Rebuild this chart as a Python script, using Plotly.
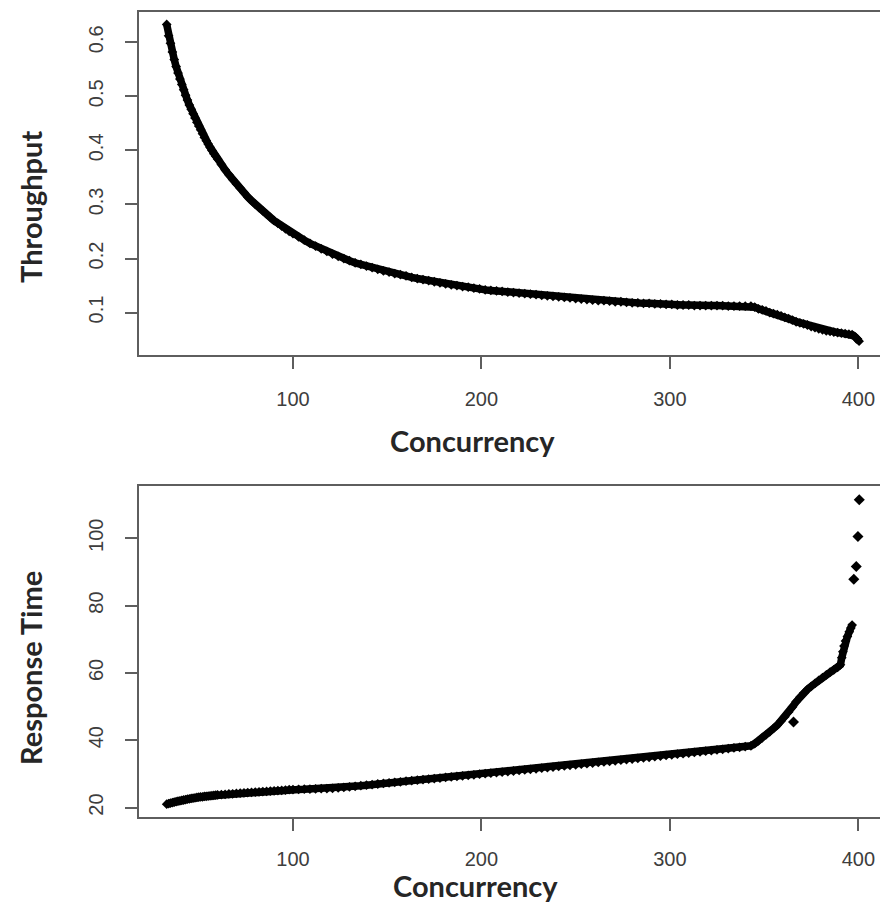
import plotly.graph_objects as go

# ---------------- data ----------------
# concurrency levels of the dense band (independent variable)
conc_seg1 = list(range(33, 61))          # 33..60
conc_seg2 = list(range(62, 101, 2))      # 62..100
conc_seg3 = list(range(103, 344, 3))     # 103..343
conc_seg4 = list(range(345, 390, 2))     # 345..389

thr_seg1 = [0.633, 0.612, 0.598, 0.582, 0.568, 0.555, 0.543, 0.532, 0.522, 0.512,
            0.502, 0.493, 0.484, 0.476, 0.468, 0.460, 0.452, 0.445, 0.438, 0.431,
            0.424, 0.418, 0.412, 0.406, 0.400, 0.394, 0.389, 0.384]
thr_seg2 = [0.374, 0.364, 0.355, 0.346, 0.338, 0.330, 0.322, 0.314, 0.307, 0.300,
            0.294, 0.288, 0.282, 0.276, 0.270, 0.265, 0.260, 0.255, 0.250, 0.246]
thr_seg3 = [0.240, 0.234, 0.228, 0.223, 0.218, 0.213, 0.208, 0.204, 0.200, 0.196,
            0.192, 0.189, 0.186, 0.183, 0.180, 0.177, 0.175, 0.172, 0.170, 0.168,
            0.165, 0.163, 0.161, 0.159, 0.157, 0.155, 0.153, 0.151, 0.150, 0.148,
            0.147, 0.145, 0.144, 0.142, 0.141, 0.140, 0.139, 0.138, 0.137, 0.136,
            0.135, 0.134, 0.133, 0.132, 0.131, 0.130, 0.129, 0.128, 0.127, 0.126,
            0.125, 0.124, 0.123, 0.122, 0.122, 0.121, 0.120, 0.120, 0.119, 0.118,
            0.118, 0.117, 0.117, 0.116, 0.116, 0.115, 0.115, 0.114, 0.114, 0.114,
            0.113, 0.113, 0.113, 0.113, 0.113, 0.113, 0.112, 0.112, 0.112, 0.112,
            0.112]
thr_seg4 = [0.110, 0.107, 0.105, 0.103, 0.100, 0.098, 0.096, 0.094, 0.091, 0.089,
            0.086, 0.083, 0.081, 0.079, 0.077, 0.074, 0.072, 0.070, 0.068, 0.066,
            0.065, 0.064, 0.063]
thr_tail_conc = [391, 393, 395, 396.7, 397.6, 398.6, 399.6, 400.4]
thr_tail = [0.062, 0.061, 0.060, 0.059, 0.057, 0.054, 0.051, 0.047]

rt_seg1 = [21.0, 21.2, 21.35, 21.5, 21.65, 21.8, 21.9, 22.0, 22.15, 22.25,
           22.35, 22.5, 22.6, 22.7, 22.8, 22.9, 23.0, 23.1, 23.15, 23.2,
           23.3, 23.35, 23.4, 23.5, 23.55, 23.6, 23.7, 23.75]
rt_seg2 = [23.85, 23.95, 24.05, 24.1, 24.2, 24.3, 24.35, 24.45, 24.5, 24.6,
           24.65, 24.75, 24.8, 24.9, 24.95, 25.05, 25.1, 25.2, 25.3, 25.35]
rt_seg3 = [25.4, 25.45, 25.5, 25.55, 25.6, 25.65, 25.72, 25.82, 25.98, 26.15,
           26.32, 26.5, 26.66, 26.83, 27.0, 27.17, 27.34, 27.5, 27.66, 27.82,
           27.98, 28.14, 28.3, 28.46, 28.62, 28.78, 28.94, 29.1, 29.26, 29.42,
           29.58, 29.74, 29.9, 30.06, 30.22, 30.38, 30.54, 30.7, 30.86, 31.02,
           31.18, 31.35, 31.52, 31.69, 31.86, 32.03, 32.2, 32.37, 32.54, 32.71,
           32.88, 33.05, 33.22, 33.39, 33.56, 33.73, 33.9, 34.07, 34.24, 34.41,
           34.58, 34.76, 34.94, 35.12, 35.3, 35.48, 35.66, 35.84, 36.02, 36.2,
           36.38, 36.56, 36.74, 36.92, 37.1, 37.3, 37.5, 37.7, 37.9, 38.1,
           38.35]
rt_seg4 = [39.0, 39.8, 40.7, 41.6, 42.5, 43.5, 44.5, 45.7, 47.0, 48.4,
           49.9, 51.4, 52.8, 54.0, 55.1, 56.0, 56.9, 57.8, 58.6, 59.4,
           60.2, 60.9, 61.6]
# steep run at the end of the band
rt_tail_conc = [390.5, 391.2, 391.8, 392.4, 393.2, 394.2, 395.2, 396.0, 396.7]
rt_tail = [62.4, 64.5, 66.3, 68.0, 69.5, 70.8, 72.2, 73.3, 74.2]
# isolated points (outlier and the last saturated measurements)
rt_iso_conc = [365.6, 397.6, 398.9, 399.8, 400.5]
rt_iso = [45.4, 87.8, 91.6, 100.5, 111.4]

x_ticks = [100, 200, 300, 400]
thr_ticks = [0.1, 0.2, 0.3, 0.4, 0.5, 0.6]
rt_ticks = [20, 40, 60, 80, 100]

conc = conc_seg1 + conc_seg2 + conc_seg3 + conc_seg4
throughput = thr_seg1 + thr_seg2 + thr_seg3 + thr_seg4
response = rt_seg1 + rt_seg2 + rt_seg3 + rt_seg4

# ---------------- figure ----------------
W, H = 880, 904
marker = dict(symbol="diamond", size=7.5, color="black", line=dict(width=0))
band = dict(color="black", width=7.5)

thr_x = conc + thr_tail_conc
thr_y = throughput + thr_tail
rt_x = conc + rt_tail_conc
rt_y = response + rt_tail

fig = go.Figure()
# dense band: the overlapping points render as a solid band
fig.add_trace(go.Scatter(x=thr_x, y=thr_y, mode="lines+markers", line=band,
                         marker=marker, xaxis="x", yaxis="y",
                         showlegend=False, hoverinfo="skip"))
fig.add_trace(go.Scatter(x=rt_x, y=rt_y, mode="lines+markers", line=band,
                         marker=marker, xaxis="x2", yaxis="y2",
                         showlegend=False, hoverinfo="skip"))
fig.add_trace(go.Scatter(x=rt_iso_conc, y=rt_iso, mode="markers",
                         marker=dict(symbol="diamond", size=8.5, color="black",
                                     line=dict(width=0)),
                         xaxis="x2", yaxis="y2", showlegend=False, hoverinfo="skip"))

axis_color = "#5e5e5e"
tick_font = dict(family="Liberation Sans, Arial, sans-serif", size=20, color="#3d3d3d")

def xax(domain_y_anchor, standoff):
    return dict(domain=[139 / W, 1.0], range=[18.3, 411.5], anchor=domain_y_anchor,
                tickvals=x_ticks, ticks="outside", ticklen=12, tickwidth=1.5,
                tickcolor=axis_color, showline=True, linecolor=axis_color,
                linewidth=1.5, mirror=True, showgrid=False, zeroline=False,
                tickfont=tick_font, ticklabelstandoff=standoff)

def yax(domain, rng, ticks, anchor):
    return dict(domain=domain, range=rng, anchor=anchor, tickvals=ticks,
                ticks="outside", ticklen=12, tickwidth=1.5, tickcolor=axis_color,
                showline=True, linecolor=axis_color, linewidth=1.5, mirror=False,
                showgrid=False, zeroline=False, tickfont=tick_font,
                tickangle=-90, ticklabelstandoff=14)

title_font = dict(family="Lato, sans-serif", size=29, color="#262626", weight="bold")

fig.update_layout(
    width=W, height=H,
    margin=dict(l=0, r=0, t=0, b=0),
    paper_bgcolor="white", plot_bgcolor="white",
    xaxis=xax("y", 13),
    yaxis=yax([1 - 355 / H, 1 - 12 / H], [0.0215, 0.656], thr_ticks, "x"),
    xaxis2=xax("y2", 11),
    yaxis2=yax([1 - 817 / H, 1 - 486 / H], [17.2, 115.5], rt_ticks, "x2"),
    annotations=[
        dict(text="Throughput", x=30 / W, y=1 - 207 / H, xref="paper", yref="paper",
             textangle=-90, showarrow=False, font=title_font,
             xanchor="center", yanchor="middle"),
        dict(text="Response Time", x=30 / W, y=1 - 668 / H, xref="paper", yref="paper",
             textangle=-90, showarrow=False, font=title_font,
             xanchor="center", yanchor="middle"),
        dict(text="Concurrency", x=472 / W, y=1 - 440 / H, xref="paper", yref="paper",
             showarrow=False, font=title_font, xanchor="center", yanchor="middle"),
        dict(text="Concurrency", x=475 / W, y=1 - 885 / H, xref="paper", yref="paper",
             showarrow=False, font=title_font, xanchor="center", yanchor="middle"),
    ],
)

fig.write_html("out.html", config={"displayModeBar": False},
               post_script="document.body.style.margin='0';document.body.style.overflow='hidden';")
